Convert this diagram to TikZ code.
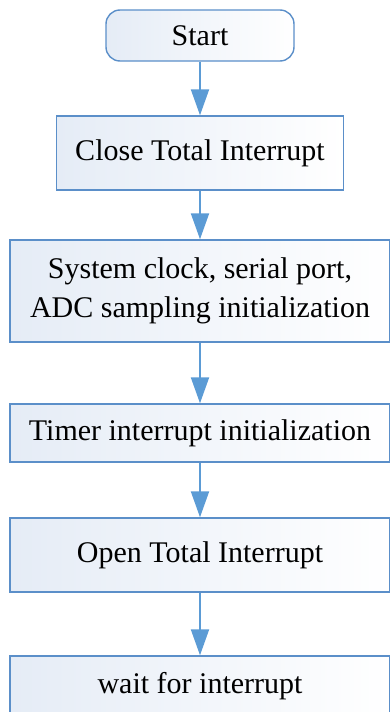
\documentclass[tikz,border=0pt]{standalone}
\usepackage{fontspec}
\setmainfont{Liberation Serif}
\usetikzlibrary{arrows.meta}
\definecolor{edgeblue}{RGB}{91,143,201}
\definecolor{arrowblue}{RGB}{91,155,213}
\definecolor{fillblue}{RGB}{229,236,246}
\tikzset{
  flowbox/.style={draw=edgeblue, line width=1.4pt, left color=fillblue, right color=white,
    align=center, inner sep=0pt, font=\fontsize{30}{39}\selectfont},
  startbox/.style={flowbox, rounded corners=14pt},
  flowarrow/.style={draw=arrowblue, line width=2pt,
    -{Triangle[width=18pt,length=26pt]}},
}
\begin{document}
\begin{tikzpicture}[x=1pt,y=-1pt]
  \useasboundingbox (0,0) rectangle (389,712);
  \node[startbox, minimum width=188pt, minimum height=51pt] (start) at (200,35.5) {Start};
  \node[flowbox, minimum width=287pt, minimum height=74pt] (close) at (200,153) {Close Total Interrupt};
  \node[flowbox, minimum width=380pt, minimum height=102pt] (init) at (200,291)
    {System clock, serial port,\\ADC sampling initialization};
  \node[flowbox, minimum width=380pt, minimum height=58pt] (timer) at (200,433) {Timer interrupt initialization};
  \node[flowbox, minimum width=380pt, minimum height=74pt] (open) at (200,555) {Open Total Interrupt};
  \node[flowbox, minimum width=380pt, minimum height=60pt] (wait) at (200,686) {wait for interrupt};
  \draw[flowarrow] (start) -- (close);
  \draw[flowarrow] (close) -- (init);
  \draw[flowarrow] (init) -- (timer);
  \draw[flowarrow] (timer) -- (open);
  \draw[flowarrow] (open) -- (wait);
\end{tikzpicture}
\end{document}
